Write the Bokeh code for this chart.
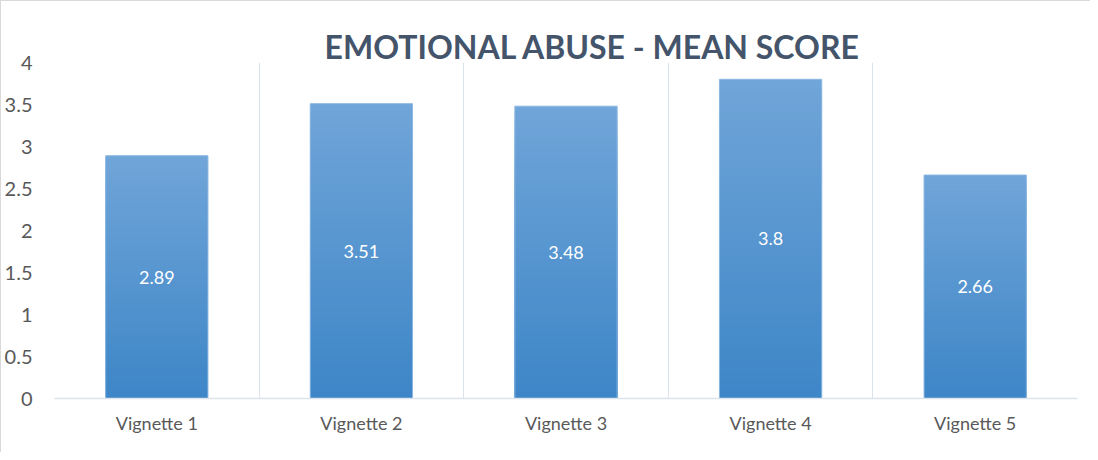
from bokeh.plotting import figure
from bokeh.models import ColumnDataSource, LabelSet, FixedTicker, CustomJSTickFormatter, FactorRange, Range1d
from bokeh.core.properties import value
from bokeh.embed import file_html
from bokeh.resources import INLINE

categories = ["Vignette 1", "Vignette 2", "Vignette 3", "Vignette 4", "Vignette 5"]
mean_scores = [2.89, 3.51, 3.48, 3.8, 2.66]
score_labels = ["2.89", "3.51", "3.48", "3.8", "2.66"]
y_ticks = [0, 0.5, 1, 1.5, 2, 2.5, 3, 3.5, 4]

FONT = "Lato"
TEXT_COLOR = "#595959"
GRID_COLOR = "#DDE3EA"
BOTTOM_RGB = (0x3D, 0x86, 0xC7)
TOP_RGB = (0x70, 0xA5, 0xD8)
N_STRIPS = 40

p = figure(width=1090, height=452, x_range=FactorRange(*categories), y_range=Range1d(0, 4),
           output_backend="svg", toolbar_location=None,
           min_border_left=48, min_border_right=14, min_border_top=61, min_border_bottom=55)
p.styles = {"border-left": "1px solid #D9D9D9", "border-top": "1px solid #D9D9D9"}

# gradient bars built from the data: overlapping columns from 0, tallest (lightest) first
xs, tops, cols = [], [], []
for k in range(N_STRIPS):
    frac = (N_STRIPS - k) / N_STRIPS
    t = (N_STRIPS - k - 0.5) / N_STRIPS
    rgb = tuple(int(round(BOTTOM_RGB[i] + (TOP_RGB[i] - BOTTOM_RGB[i]) * t)) for i in range(3))
    for c, v in zip(categories, mean_scores):
        xs.append(c)
        tops.append(v * frac)
        cols.append("#%02x%02x%02x" % rgb)
strips = ColumnDataSource(dict(x=xs, top=tops, color=cols))
p.vbar(x="x", top="top", width=0.5, fill_color="color", line_color=None, source=strips)

src = ColumnDataSource(dict(x=categories, top=mean_scores,
                            mid=[v / 2 for v in mean_scores], label=score_labels))
p.vbar(x="x", top="top", width=0.5, fill_color=None, line_color="#8DB8E2", line_width=1, source=src)

labels = LabelSet(x="x", y="mid", text="label", source=src, text_color="white",
                  text_font=value(FONT), text_font_size="18px", text_align="center",
                  text_baseline="middle")
p.add_layout(labels)

# title
p.title.text = "EMOTIONAL ABUSE - MEAN SCORE"
p.title.align = "left"
p.title.text_font = FONT
p.title.text_font_size = "32px"
p.title.text_font_style = "bold"
p.title.text_color = "#44546A"
p.title.offset = 270
p.title.standoff = -6

# grids
p.ygrid.grid_line_color = None
p.xgrid.ticker = FixedTicker(ticks=list(range(len(categories) + 1)))
p.xgrid.grid_line_color = GRID_COLOR
p.xgrid.grid_line_width = 1

# axes
p.yaxis.ticker = FixedTicker(ticks=y_ticks)
p.yaxis.formatter = CustomJSTickFormatter(code="return tick.toString()")
p.yaxis.axis_line_color = None
p.yaxis.major_tick_line_color = None
p.yaxis.minor_tick_line_color = None
p.yaxis.major_label_standoff = 16
p.yaxis.major_label_text_font = FONT
p.yaxis.major_label_text_font_size = "20px"
p.yaxis.major_label_text_color = TEXT_COLOR

p.xaxis.axis_line_color = GRID_COLOR
p.xaxis.axis_line_width = 1.5
p.xaxis.major_tick_line_color = None
p.xaxis.minor_tick_line_color = None
p.xaxis.major_label_standoff = 7
p.xaxis.major_label_text_font = FONT
p.xaxis.major_label_text_font_size = "18px"
p.xaxis.major_label_text_color = TEXT_COLOR

p.outline_line_color = None
p.background_fill_color = "white"
p.border_fill_color = "white"

open("out.html", "w").write(file_html(p, INLINE))
